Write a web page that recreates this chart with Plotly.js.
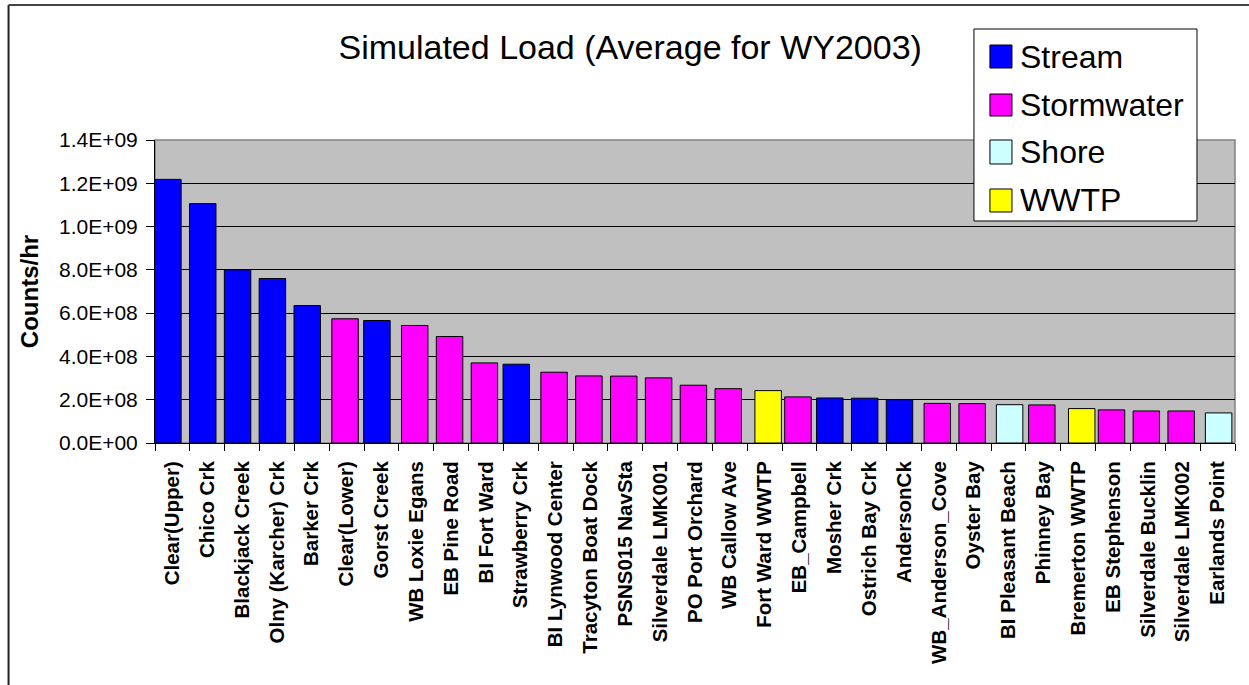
<!DOCTYPE html>
<html>
<head>
<meta charset="utf-8">
<script src="https://cdn.plot.ly/plotly-3.0.1.min.js"></script>
<style>
  html, body { margin: 0; padding: 0; background: #ffffff; }
  #chart { width: 1249px; height: 685px; }
</style>
</head>
<body>
<div id="chart"></div>
<script>
// Sampling sites, in ranked order
const sites = [
  "Clear(Upper)", "Chico Crk", "Blackjack Creek", "Olny (Karcher) Crk", "Barker Crk",
  "Clear(Lower)", "Gorst Creek", "WB Loxie Egans", "EB Pine Road", "BI Fort Ward",
  "Strawberry Crk", "BI Lynwood Center", "Tracyton Boat Dock", "PSNS015 NavSta",
  "Silverdale LMK001", "PO Port Orchard", "WB Callow Ave", "Fort Ward WWTP",
  "EB_Campbell", "Mosher Crk", "Ostrich Bay Crk", "AndersonCk", "WB_Anderson_Cove",
  "Oyster Bay", "BI Pleasant Beach", "Phinney Bay", "Bremerton WWTP", "EB Stephenson",
  "Silverdale Bucklin", "Silverdale LMK002", "Earlands Point"
];

// Source type for each site
const sourceType = [
  "Stream", "Stream", "Stream", "Stream", "Stream",
  "Stormwater", "Stream", "Stormwater", "Stormwater", "Stormwater",
  "Stream", "Stormwater", "Stormwater", "Stormwater",
  "Stormwater", "Stormwater", "Stormwater", "WWTP",
  "Stormwater", "Stream", "Stream", "Stream", "Stormwater",
  "Stormwater", "Shore", "Stormwater", "WWTP", "Stormwater",
  "Stormwater", "Stormwater", "Shore"
];

// Average simulated load, counts/hr
const loadValues = [
  1.218e9, 1.106e9, 0.800e9, 0.760e9, 0.635e9,
  0.574e9, 0.566e9, 0.543e9, 0.492e9, 0.370e9,
  0.364e9, 0.327e9, 0.310e9, 0.309e9,
  0.301e9, 0.267e9, 0.251e9, 0.242e9,
  0.213e9, 0.208e9, 0.207e9, 0.200e9, 0.183e9,
  0.182e9, 0.177e9, 0.176e9, 0.159e9, 0.153e9,
  0.148e9, 0.148e9, 0.139e9
];

// Source types and their fills
const typeNames = ["Stream", "Stormwater", "Shore", "WWTP"];
const typeColors = ["#0000FF", "#FF00FF", "#CCFFFF", "#FFFF00"];

// Y axis ticks
const yTickVals = [0, 2e8, 4e8, 6e8, 8e8, 1.0e9, 1.2e9, 1.4e9];
const yTickText = ["0.0E+00", "2.0E+08", "4.0E+08", "6.0E+08", "8.0E+08", "1.0E+09", "1.2E+09", "1.4E+09"];

// Slight per-series offset inside each category slot
const barWidth = 0.76;
const typeOffsets = [-0.51, -0.425, -0.35, -0.28];

const traces = typeNames.map((t, k) => {
  const xs = [], ys = [];
  sites.forEach((s, i) => {
    if (sourceType[i] === t) { xs.push(s); ys.push(loadValues[i]); }
  });
  return {
    type: "bar",
    name: t,
    x: xs,
    y: ys,
    width: barWidth,
    offset: typeOffsets[k],
    marker: { color: typeColors[k], line: { color: "#000000", width: 1 } },
    showlegend: false,
    hoverinfo: "x+y"
  };
});

// Hand-drawn legend box (large swatches)
const legendBox = { x0: 0.7583, x1: 0.9648, y0: 0.7327, y1: 1.3663 };
const swatchX = [0.7731, 0.7935];
const swatchY = [[1.2376, 1.3135], [1.0792, 1.1518], [0.9208, 1.0000], [0.7624, 0.8383]];
const labelY = [1.2739, 1.1155, 0.9604, 0.8020];

const shapes = [
  // plot area frame
  { type: "rect", xref: "paper", yref: "paper", x0: 0, x1: 1, y0: 0, y1: 1,
    line: { color: "#808080", width: 1.5 }, fillcolor: "rgba(0,0,0,0)", layer: "below" },
  // chart area border (left and top edges)
  { type: "line", xref: "paper", yref: "paper", x0: -0.1356, x1: -0.1356, y0: -0.80, y1: 1.4455,
    line: { color: "#222222", width: 2 } },
  { type: "line", xref: "paper", yref: "paper", x0: -0.1356, x1: 1.02, y0: 1.4455, y1: 1.4455,
    line: { color: "#444444", width: 2 } },
  // legend frame
  { type: "rect", xref: "paper", yref: "paper", x0: legendBox.x0, x1: legendBox.x1,
    y0: legendBox.y0, y1: legendBox.y1, line: { color: "#000000", width: 1 }, fillcolor: "#ffffff" }
];
typeNames.forEach((t, k) => {
  shapes.push({ type: "rect", xref: "paper", yref: "paper",
    x0: swatchX[0], x1: swatchX[1], y0: swatchY[k][0], y1: swatchY[k][1],
    line: { color: "#000000", width: 1 }, fillcolor: typeColors[k] });
});

const annotations = typeNames.map((t, k) => ({
  xref: "paper", yref: "paper", x: 0.799, y: labelY[k],
  xanchor: "left", yanchor: "middle", showarrow: false,
  text: t, font: { family: "Arial, 'Liberation Sans', sans-serif", size: 32, color: "#000000" }
}));

const layout = {
  width: 1249,
  height: 685,
  paper_bgcolor: "#ffffff",
  plot_bgcolor: "#C0C0C0",
  margin: { l: 155, r: 14, t: 140, b: 242 },
  barmode: "overlay",
  showlegend: false,
  font: { family: "Arial, 'Liberation Sans', sans-serif", color: "#000000" },
  title: {
    text: "Simulated Load (Average for WY2003)",
    font: { size: 34, color: "#000000" },
    xref: "paper", x: 0.44, xanchor: "center",
    yref: "container", y: 1 - 47 / 685, yanchor: "middle"
  },
  xaxis: {
    type: "category",
    categoryorder: "array",
    categoryarray: sites,
    range: [-0.5, sites.length - 0.5],
    tickangle: -90,
    tickfont: { size: 20.5, weight: "bold" },
    tickson: "boundaries",
    ticks: "outside",
    ticklen: 7,
    tickcolor: "#000000",
    ticklabelstandoff: 9,
    showgrid: false,
    showline: true,
    linecolor: "#000000",
    linewidth: 1,
    automargin: false,
    fixedrange: true
  },
  yaxis: {
    range: [0, 1.4e9],
    tickvals: yTickVals,
    ticktext: yTickText,
    tickfont: { size: 21 },
    ticks: "outside",
    ticklen: 8,
    tickcolor: "#000000",
    ticklabelstandoff: 4,
    showgrid: true,
    gridcolor: "#000000",
    gridwidth: 1,
    zeroline: false,
    showline: true,
    linecolor: "#000000",
    linewidth: 1,
    title: { text: "Counts/hr", font: { size: 24, weight: "bold" }, standoff: 13 },
    automargin: false,
    fixedrange: true
  },
  shapes: shapes,
  annotations: annotations
};

Plotly.newPlot("chart", traces, layout, { displayModeBar: false, staticPlot: true });
</script>
</body>
</html>
